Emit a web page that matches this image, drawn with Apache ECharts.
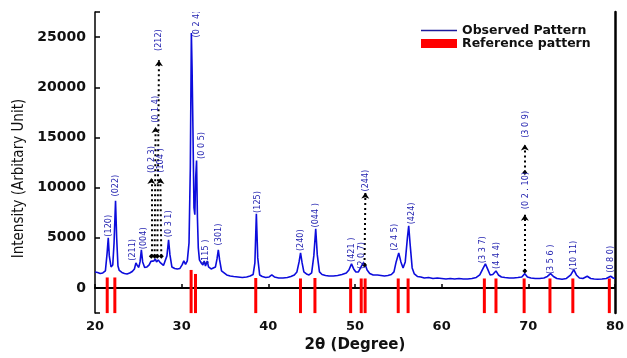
<!DOCTYPE html>
<html>
<head>
<meta charset="utf-8">
<script src="https://cdn.jsdelivr.net/npm/echarts@6/dist/echarts.min.js"></script>
<style>
html,body{margin:0;padding:0;background:#fff;}
#chart{width:627px;height:358px;}
</style>
</head>
<body>
<div id="chart"></div>
<script>
// ---------- DATA ----------
const twoTheta = [20.0,20.3,20.6,20.9,21.2,21.4,21.53,21.65,21.85,22.05,22.2,22.37,22.5,22.65,22.8,23.1,23.4,23.7,24.0,24.3,24.55,24.72,24.85,25.05,25.2,25.35,25.5,25.73,26.0,26.25,26.45,26.6,26.8,26.95,27.1,27.3,27.5,27.7,27.9,28.1,28.3,28.49,28.65,28.87,29.2,29.5,29.8,30.05,30.25,30.45,30.65,30.85,31.0,31.12,31.2,31.3,31.42,31.52,31.62,31.72,31.82,31.92,32.05,32.25,32.45,32.6,32.75,32.95,33.1,33.4,33.6,33.9,34.08,34.23,34.38,34.6,34.9,35.2,35.6,36.0,36.5,37.0,37.5,37.9,38.25,38.45,38.62,38.78,39.0,39.3,39.7,40.1,40.4,40.7,41.2,41.7,42.2,42.6,43.0,43.3,43.55,43.72,43.9,44.1,44.4,44.7,45.0,45.25,45.47,45.65,45.9,46.2,46.6,47.0,47.5,48.0,48.5,49.0,49.3,49.6,49.85,50.1,50.4,50.7,50.95,51.2,51.4,51.7,52.1,52.6,53.0,53.4,53.8,54.2,54.5,54.75,55.05,55.3,55.55,55.8,56.05,56.2,56.35,56.6,56.85,57.2,57.6,58.0,58.5,59.0,59.5,60.0,60.5,61.0,61.5,62.0,62.5,63.0,63.5,64.0,64.4,64.75,65.05,65.3,65.6,65.9,66.27,66.55,66.9,67.3,67.8,68.3,68.8,69.25,69.6,69.9,70.3,70.8,71.3,71.8,72.2,72.57,72.9,73.3,73.9,74.4,74.9,75.25,75.55,75.9,76.3,76.8,77.2,77.6,78.0,78.5,79.0,79.5,79.8,80.0];
const intensity = [1600,1550,1450,1500,1700,3500,5000,3200,2100,2300,4500,8700,5000,2200,1750,1550,1450,1400,1500,1650,1900,2500,2300,2050,2600,3800,2600,2050,2100,2300,2650,2500,2700,2900,2600,2800,2550,2450,2250,2200,3200,4800,3300,2100,1950,1900,1950,2300,2700,2350,2700,4500,12000,25400,22000,16000,8000,7300,11000,12700,7000,4000,2800,2500,2300,2700,2200,2700,2100,1900,1850,2100,2900,3800,2800,1700,1500,1300,1200,1150,1100,1050,1100,1200,1350,2500,7400,3000,1300,1150,1050,1100,1300,1100,1000,1000,1050,1150,1300,1600,2600,3500,2500,1600,1400,1300,1500,3200,5900,3300,1600,1350,1250,1200,1200,1250,1350,1500,1800,2400,1900,1600,1600,2100,2500,2300,1800,1450,1300,1300,1250,1200,1250,1350,1600,2600,3500,2600,2000,2600,5000,6200,4500,2000,1400,1150,1100,1000,1050,950,1000,950,900,950,900,950,900,900,950,1050,1300,1900,2400,1900,1300,1350,1700,1300,1100,1050,1000,1000,1050,1100,1430,1100,1000,950,950,1000,1150,1430,1150,950,870,950,1300,1830,1300,1000,950,1170,950,900,870,900,950,1170,1000,950];

const refPos = [21.41,22.29,31.09,31.6,38.55,43.71,45.38,49.5,50.72,51.17,54.99,56.13,64.93,66.27,69.52,72.5,75.14,79.35];
const refHeight = [1050,1050,1800,1400,1000,950,1000,950,950,950,950,950,950,950,950,950,950,950];

// Miller index labels: text, 2theta anchor, intensity anchor (label centre)
const hklText = ['(120)','(022)','(211)','(004)','(0 3 1)','(115 )','(301)','(0 2 4)','(0 0 5)','(125)','(240)','(044 )','(421 )','(2 0 7)','(244)','(2 4 5)','(424)','(3 3 7)','(4 4 4)','(0 2 . 10)','(3 0 9)','(3 5 6 )','(10 11)','(0 8 0)','(0 2 3)','(0 1 4)','(212)','(104 )'];
const hklX = [21.53,22.37,24.35,25.66,28.49,32.73,34.23,31.74,32.25,38.73,43.75,45.47,49.63,50.78,51.28,54.61,56.52,64.74,66.38,69.67,69.64,72.58,75.26,79.46,26.5,26.99,27.38,27.54];
const hklY = [6200,10200,3800,4950,6400,3600,5330,26300,14200,8570,4760,7240,3810,3240,10700,5050,7430,3810,3240,9700,16300,2860,3240,2860,12800,17800,24700,12700];

// dotted guide arrows (from peak to label)
const arrowFromX = [26.50,26.88,27.19,27.65,51.1,69.6,69.6];
const arrowFromY = [3170,3170,3170,3170,2300,1700,11500];
const arrowToX = [26.50,26.99,27.38,27.54,51.2,69.6,69.6];
const arrowToY = [10950,16030,22700,10950,9500,7300,14300];

const xTicks = [20,30,40,50,60,70,80];
const yTicks = [0,5000,10000,15000,20000,25000];

// ---------- CHART ----------
const Y_MIN = -2500, Y_MAX = 27500;
const chart = echarts.init(document.getElementById('chart'), null, {renderer:'canvas'});
const blue = '#0c0cdc';
const labelBlue = '#2323b0';

const obsData = twoTheta.map((x,i)=>[x,intensity[i]]);
const refData = refPos.map((x,i)=>[x,refHeight[i]]);
const hklData = hklText.map((t,i)=>[hklX[i],hklY[i],t]);
const arrowData = arrowFromX.map((x,i)=>({coords:[[x,arrowFromY[i]],[arrowToX[i],arrowToY[i]]]}));

chart.setOption({
  animation:false,
  backgroundColor:'#fff',
  grid:{left:95,right:9,top:12,bottom:32,containLabel:false},
  legend:{
    orient:'vertical', left:416, top:19, itemWidth:36, itemHeight:9, itemGap:0,
    symbolKeepAspect:true,
    textStyle:{fontFamily:'DejaVu Sans',fontWeight:'bold',fontSize:12.5,color:'#111'},
    data:[
      {name:'Observed Pattern', icon:'path://M0,0 L36,0 L36,1.6 L0,1.6 Z', itemStyle:{color:'#1c1c9c'}},
      {name:'Reference pattern', icon:'rect', itemStyle:{color:'#ff0000'}}
    ]
  },
  xAxis:[{
    type:'value', min:20, max:80, interval:10,
    axisLine:{show:true,lineStyle:{color:'#000',width:2}},
    axisTick:{show:true,inside:true,length:4,lineStyle:{color:'#000',width:1.5}},
    axisLabel:{show:true,margin:7,color:'#111',fontFamily:'DejaVu Sans',fontWeight:'bold',fontSize:13,
      formatter:v=>xTicks.includes(v)?String(v):''},
    splitLine:{show:false},
    name:'2θ (Degree)', nameLocation:'middle', nameGap:17,
    nameTextStyle:{fontFamily:'DejaVu Sans',fontWeight:'bold',fontSize:15,color:'#111'}
  },{
    type:'value', position:'top', min:20, max:80, interval:10,
    axisLine:{show:true,lineStyle:{color:'#000',width:1.2}},
    axisTick:{show:false}, axisLabel:{show:false}, splitLine:{show:false}
  }],
  yAxis:[{
    type:'value', min:Y_MIN, max:Y_MAX, splitNumber:6,
    axisLine:{show:true,lineStyle:{color:'#000',width:1.5}},
    axisTick:{show:true,inside:true,length:5,lineStyle:{color:'#000',width:1.5}},
    axisLabel:{show:true,margin:9,color:'#111',fontFamily:'DejaVu Sans',fontWeight:'bold',fontSize:14,
      formatter:v=>yTicks.includes(v)?String(v):''},
    splitLine:{show:false},
    name:'Intensity (Arbitary Unit)', nameLocation:'middle', nameGap:61,
    nameTextStyle:{fontFamily:'Liberation Sans Narrow, DejaVu Sans Condensed, sans-serif',fontSize:15,color:'#111',padding:[0,32,0,0]}
  },{
    type:'value', position:'right', min:Y_MIN, max:Y_MAX, splitNumber:6,
    axisLine:{show:true,lineStyle:{color:'#000',width:2.5}},
    axisTick:{show:false}, axisLabel:{show:false}, splitLine:{show:false}
  }],
  series:[
    {
      name:'Reference pattern', type:'custom', coordinateSystem:'cartesian2d',
      itemStyle:{color:'#ff0000'},
      renderItem:function(params, api){
        const top = api.coord([api.value(0), api.value(1)]);
        const bot = api.coord([api.value(0), Y_MIN]);
        return {type:'rect', shape:{x:top[0]-1.5, y:top[1], width:3, height:bot[1]-top[1]},
          style:{fill:'#ff0000'}};
      },
      data:refData, z:2
    },
    {
      name:'Observed Pattern', type:'line', data:obsData, showSymbol:false, symbol:'none',
      lineStyle:{color:blue,width:1.6}, itemStyle:{color:blue}, z:3
    },
    {
      type:'lines', coordinateSystem:'cartesian2d', polyline:false,
      symbol:['diamond','arrow'], symbolSize:[5,6],
      lineStyle:{color:'#000',width:2,type:[2,3],opacity:1},
      data:arrowData, z:4
    },
    {
      type:'custom', coordinateSystem:'cartesian2d', clip:true,
      renderItem:function(params, api){
        const p = api.coord([api.value(0), api.value(1)]);
        return {type:'text', x:p[0], y:p[1], rotation:Math.PI/2,
          style:{text:hklText[params.dataIndex], fill:labelBlue, fontSize:9,
            fontFamily:'DejaVu Sans Condensed, Liberation Sans, sans-serif', align:'center', verticalAlign:'middle'}};
      },
      data:hklData, z:5
    }
  ]
});
</script>
</body>
</html>
